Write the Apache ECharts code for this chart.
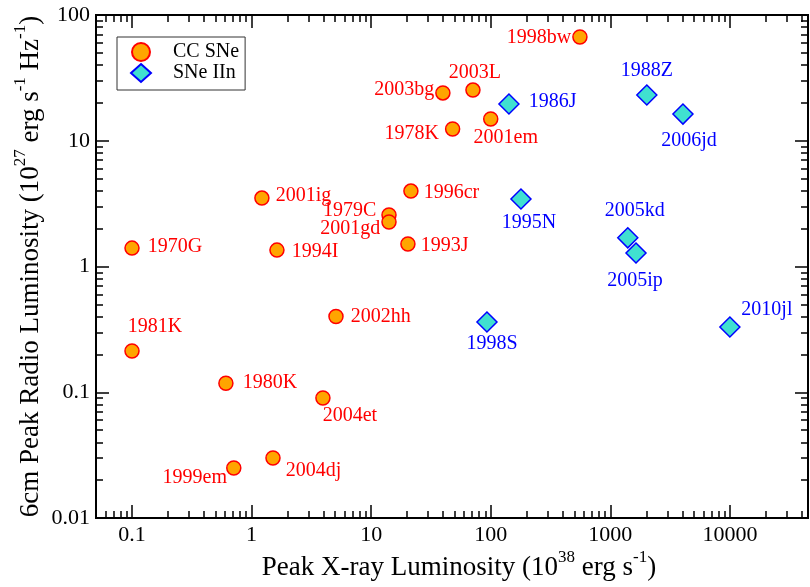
<!DOCTYPE html>
<html>
<head>
<meta charset="utf-8">
<script src="https://cdn.jsdelivr.net/npm/echarts@6/dist/echarts.min.js"></script>
<style>
html, body { margin: 0; padding: 0; background: #fff; }
#chart { width: 810px; height: 587px; }
</style>
</head>
<body>
<div id="chart"></div>
<script>
// core-collapse SNe (orange circles)
const ccNames = ['1998bw', '2003bg', '2003L', '1978K', '2001em', '1996cr', '2001ig', '1979C', '2001gd',
                 '1993J', '1970G', '1994I', '1981K', '1980K', '2002hh', '2004et', '1999em', '2004dj'];
const ccX = [557, 39.8, 71, 48, 100, 21.5, 1.22, 14.1, 14.1, 20.3, 0.1, 1.63, 0.1, 0.61, 5.08, 3.95, 0.71, 1.51];
const ccY = [66.8, 24, 25.3, 12.4, 14.9, 3.98, 3.5, 2.57, 2.26, 1.51, 1.40, 1.35, 0.213, 0.118, 0.40, 0.090, 0.025, 0.030];

// type IIn SNe (turquoise diamonds)
const iinNames = ['1986J', '1988Z', '2006jd', '1995N', '2005kd', '2005ip', '1998S', '2010jl'];
const iinX = [142, 2020, 4050, 179, 1400, 1640, 93, 10000];
const iinY = [19.6, 23.1, 16.3, 3.44, 1.69, 1.28, 0.362, 0.330];

// axis ticks
const xMajor = [0.1, 1, 10, 100, 1000, 10000];
const xMinor = [0.06, 0.07, 0.08, 0.09, 0.2, 0.3, 0.4, 0.5, 0.6, 0.7, 0.8, 0.9,
                2, 3, 4, 5, 6, 7, 8, 9, 20, 30, 40, 50, 60, 70, 80, 90,
                200, 300, 400, 500, 600, 700, 800, 900, 2000, 3000, 4000, 5000, 6000, 7000, 8000, 9000,
                20000, 30000, 40000];
const yMajor = [0.01, 0.1, 1, 10, 100];
const yMinor = [0.02, 0.03, 0.04, 0.05, 0.06, 0.07, 0.08, 0.09, 0.2, 0.3, 0.4, 0.5, 0.6, 0.7, 0.8, 0.9,
                2, 3, 4, 5, 6, 7, 8, 9, 20, 30, 40, 50, 60, 70, 80, 90];

// where each name label sits: [side, dx, dy]
const labelPlace = {
    '1998bw': ['left', -1, 1], '2003bg': ['left', -1, -3], '2003L': ['top', 2, 0],
    '1978K': ['left', -6, 5], '2001em': ['bottom', 15, 1], '1996cr': ['right', 5, 2],
    '2001ig': ['right', 6, -2], '1979C': ['left', -5, -4], '2001gd': ['left', -1, 7],
    '1993J': ['right', 5, 2], '1970G': ['right', 8, -1], '1994I': ['right', 7, 2],
    '1981K': ['top', 23, -6], '1980K': ['right', 9, 0], '2002hh': ['right', 7, 0],
    '2004et': ['bottom', 27, 0], '1999em': ['left', 1, 10], '2004dj': ['right', 5, 13],
    '1986J': ['right', 9, -2], '1988Z': ['top', 0, -4], '2006jd': ['bottom', 6, 6],
    '1995N': ['bottom', 8, 3], '2005kd': ['top', 7, -6], '2005ip': ['bottom', -1, 7],
    '1998S': ['bottom', 5, 1], '2010jl': ['top', 37, 3]
};

const FONT = 'Liberation Serif';
const supRich = {
    sup: { fontSize: 17, fontFamily: FONT, color: '#000', verticalAlign: 'top', lineHeight: 17 }
};

function logAxis(pos, min, max, ticks, tickLen, extra) {
    const ax = {
        type: 'log', logBase: 10, position: pos, min: min, max: max, gridIndex: 0,
        axisLine: { show: true, onZero: false, lineStyle: { color: '#000', width: 2 } },
        axisTick: { show: true, inside: true, length: tickLen, customValues: ticks,
                    lineStyle: { color: '#000', width: 1.5 } },
        axisLabel: { show: false },
        splitLine: { show: false },
        minorTick: { show: false }
    };
    return Object.assign(ax, extra || {});
}

const tickLabel = {
    show: true, fontFamily: FONT, fontSize: 22, color: '#000', margin: 6,
    formatter: v => String(+(+v).toPrecision(6))
};

function makeSeries(name, names, xs, ys, symbol, size, fill, stroke, txt) {
    return {
        type: 'scatter', name: name, xAxisIndex: 0, yAxisIndex: 0,
        symbol: symbol, symbolSize: size,
        itemStyle: { color: fill, borderColor: stroke, borderWidth: 1.5, opacity: 1 },
        label: { show: true, formatter: '{b}', color: txt, fontFamily: FONT, fontSize: 20, distance: 0 },
        emphasis: { disabled: true },
        data: names.map((n, i) => {
            const p = labelPlace[n];
            return { name: n, value: [xs[i], ys[i]], label: { position: p[0], offset: [p[1], p[2]] } };
        })
    };
}

const chart = echarts.init(document.getElementById('chart'));
chart.setOption({
    animation: false,
    backgroundColor: '#fff',
    grid: { left: 96, right: 2, top: 15, bottom: 69, containLabel: false, outerBoundsMode: 'none' },
    legend: {
        orient: 'vertical', left: 117, top: 37,
        padding: [5, 6, 7, 13], itemGap: 1, itemWidth: 20, itemHeight: 18,
        borderColor: '#333', borderWidth: 1, borderRadius: 0,
        textStyle: { fontFamily: FONT, fontSize: 20, color: '#000', padding: [0, 0, 0, 17] },
        data: ['CC SNe', 'SNe IIn'],
        selectedMode: false
    },
    xAxis: [
        logAxis('bottom', 0.05, 45000, xMajor, 13, {
            axisLabel: Object.assign({ customValues: xMajor }, tickLabel),
            name: 'Peak X-ray Luminosity (10{sup|38} erg s{sup|-1})',
            nameLocation: 'middle', nameGap: 31, nameMoveOverlap: false,
            nameTextStyle: { fontFamily: FONT, fontSize: 27, color: '#000', lineHeight: 38,
                             padding: [0, 0, 0, 14], rich: supRich }
        }),
        logAxis('bottom', 0.05, 45000, xMinor, 7),
        logAxis('top', 0.05, 45000, xMajor, 13),
        logAxis('top', 0.05, 45000, xMinor, 7)
    ],
    yAxis: [
        logAxis('left', 0.01, 100, yMajor, 13, {
            axisLabel: Object.assign({ customValues: yMajor }, tickLabel),
            name: '6cm Peak Radio Luminosity (10{sup|27} erg s{sup|-1} Hz{sup|-1})',
            nameLocation: 'middle', nameGap: 46, nameRotate: 90, nameMoveOverlap: false,
            nameTextStyle: { fontFamily: FONT, fontSize: 27, color: '#000', lineHeight: 38, rich: supRich }
        }),
        logAxis('left', 0.01, 100, yMinor, 7),
        logAxis('right', 0.01, 100, yMajor, 13),
        logAxis('right', 0.01, 100, yMinor, 7)
    ],
    series: [
        makeSeries('CC SNe', ccNames, ccX, ccY, 'circle', 14, '#FFA500', '#FF0000', '#FF0000'),
        makeSeries('SNe IIn', iinNames, iinX, iinY, 'diamond', 20, '#40E0D0', '#0000FF', '#0000FF')
    ]
});
</script>
</body>
</html>
